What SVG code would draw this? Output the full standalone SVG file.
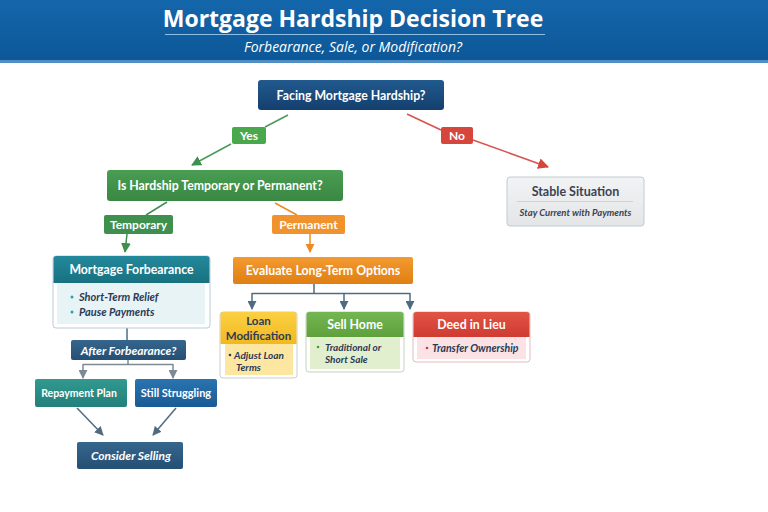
<svg xmlns="http://www.w3.org/2000/svg" width="768" height="512" viewBox="0 0 768 512">
<defs>
<linearGradient id="hdr" x1="0" y1="0" x2="0" y2="1"><stop offset="0" stop-color="#1466ab"/><stop offset="1" stop-color="#0c5797"/></linearGradient>
<linearGradient id="gBlue" x1="0" y1="0" x2="0" y2="1"><stop offset="0" stop-color="#215a8e"/><stop offset="1" stop-color="#143f6e"/></linearGradient>
<linearGradient id="gGreen" x1="0" y1="0" x2="0" y2="1"><stop offset="0" stop-color="#4a9d52"/><stop offset="1" stop-color="#3a8743"/></linearGradient>
<linearGradient id="gOrange" x1="0" y1="0" x2="0" y2="1"><stop offset="0" stop-color="#f39a30"/><stop offset="1" stop-color="#e07f12"/></linearGradient>
<linearGradient id="gTeal" x1="0" y1="0" x2="0" y2="1"><stop offset="0" stop-color="#23899c"/><stop offset="1" stop-color="#18717f"/></linearGradient>
<linearGradient id="gSlate" x1="0" y1="0" x2="0" y2="1"><stop offset="0" stop-color="#36668c"/><stop offset="1" stop-color="#254f74"/></linearGradient>
<linearGradient id="gRepay" x1="0" y1="0" x2="0" y2="1"><stop offset="0" stop-color="#32998f"/><stop offset="1" stop-color="#22807a"/></linearGradient>
<linearGradient id="gStill" x1="0" y1="0" x2="0" y2="1"><stop offset="0" stop-color="#2a74b0"/><stop offset="1" stop-color="#1a5a94"/></linearGradient>
<linearGradient id="gYellow" x1="0" y1="0" x2="0" y2="1"><stop offset="0" stop-color="#fbd044"/><stop offset="1" stop-color="#f1b91f"/></linearGradient>
<linearGradient id="gSell" x1="0" y1="0" x2="0" y2="1"><stop offset="0" stop-color="#74b653"/><stop offset="1" stop-color="#5ea13c"/></linearGradient>
<linearGradient id="gRed" x1="0" y1="0" x2="0" y2="1"><stop offset="0" stop-color="#e05445"/><stop offset="1" stop-color="#cf3b31"/></linearGradient>
<linearGradient id="gStable" x1="0" y1="0" x2="0" y2="1"><stop offset="0" stop-color="#f2f3f4"/><stop offset="1" stop-color="#e3e5e7"/></linearGradient>
<marker id="aGreen" viewBox="0 0 10 10" refX="9" refY="5" markerWidth="10" markerHeight="10" markerUnits="userSpaceOnUse" orient="auto"><path d="M0,0 L10,5 L0,10 z" fill="#3f8f4f"/></marker>
<marker id="aRed" viewBox="0 0 10 10" refX="9" refY="5" markerWidth="11" markerHeight="11" markerUnits="userSpaceOnUse" orient="auto"><path d="M0,0 L10,5 L0,10 z" fill="#d6463c"/></marker>
<marker id="aOrange" viewBox="0 0 10 10" refX="9" refY="5" markerWidth="9" markerHeight="9" markerUnits="userSpaceOnUse" orient="auto"><path d="M0,0 L10,5 L0,10 z" fill="#ef8a22"/></marker>
<marker id="aSlate" viewBox="0 0 10 10" refX="9" refY="5" markerWidth="9" markerHeight="9" markerUnits="userSpaceOnUse" orient="auto"><path d="M0,0 L10,5 L0,10 z" fill="#4f6b82"/></marker>
<marker id="aGray" viewBox="0 0 10 10" refX="9" refY="5" markerWidth="9" markerHeight="9" markerUnits="userSpaceOnUse" orient="auto"><path d="M0,0 L10,5 L0,10 z" fill="#7d8a94"/></marker>
</defs>
<style>
text{font-family:Lato,"Open Sans","DejaVu Sans",sans-serif}
.hd{font-family:"Open Sans","Noto Sans","DejaVu Sans",sans-serif}
.t{fill:#fff;font-weight:bold;font-size:12.3px;text-anchor:middle}
.lbl{fill:#fff;font-weight:bold;font-size:12px;text-anchor:middle}
.b{fill:#2b3a55;font-style:italic;font-weight:bold;font-size:10.5px}
.dk{fill:#2f3a55;font-weight:bold;font-size:12px;text-anchor:middle}
.ln{fill:none;stroke-width:1.5}
</style>
<rect width="768" height="512" fill="#ffffff"/>
<g id="header">
<rect x="0" y="0" width="768" height="62" fill="url(#hdr)"/>
<rect x="0" y="60" width="768" height="3" fill="#4f8fc6"/>
<text class="hd" x="353" y="27" text-anchor="middle" fill="#ffffff" font-size="23" font-weight="bold">Mortgage Hardship Decision Tree</text>
<line x1="165" y1="34.5" x2="545" y2="34.5" stroke="#8fbde4" stroke-width="1"/>
<text class="hd" x="353" y="52" text-anchor="middle" fill="#ffffff" font-size="14" font-style="italic">Forbearance, Sale, or Modification?</text>
</g>
<g id="connectors">
<line class="ln" x1="288" y1="115" x2="265" y2="127" stroke="#4a9a5a"/>
<line class="ln" x1="231" y1="144" x2="192" y2="165" stroke="#4a9a5a" marker-end="url(#aGreen)"/>
<line class="ln" x1="407" y1="114" x2="441" y2="130" stroke="#d9534f"/>
<line class="ln" x1="473" y1="140" x2="548" y2="167" stroke="#d9534f" marker-end="url(#aRed)"/>
<line class="ln" x1="167" y1="202" x2="146" y2="215" stroke="#3f8f4f"/>
<line class="ln" x1="127" y1="234" x2="125" y2="252" stroke="#3f8f4f" marker-end="url(#aGreen)"/>
<line class="ln" x1="275" y1="203" x2="297" y2="215" stroke="#ef8a22"/>
<line class="ln" x1="310" y1="234" x2="310" y2="252" stroke="#ef8a22" marker-end="url(#aOrange)"/>
<path class="ln" d="M314,284 V293.5 M252,293.5 H410" stroke="#4f6b82"/>
<line class="ln" x1="252" y1="293" x2="252" y2="309" stroke="#4f6b82" marker-end="url(#aSlate)"/>
<line class="ln" x1="344" y1="293" x2="344" y2="309" stroke="#4f6b82" marker-end="url(#aSlate)"/>
<line class="ln" x1="410" y1="293" x2="410" y2="309" stroke="#4f6b82" marker-end="url(#aSlate)"/>
<line class="ln" x1="127" y1="328" x2="127" y2="340" stroke="#4f6b82"/>
<path class="ln" d="M128,360 V364.5 M83,364.5 H173" stroke="#7d8a94"/>
<line class="ln" x1="83" y1="364" x2="83" y2="378" stroke="#7d8a94" marker-end="url(#aGray)"/>
<line class="ln" x1="173" y1="364" x2="173" y2="378" stroke="#7d8a94" marker-end="url(#aGray)"/>
<line class="ln" x1="77" y1="408" x2="103" y2="435" stroke="#4f6b82" marker-end="url(#aSlate)"/>
<line class="ln" x1="176" y1="408" x2="153" y2="435" stroke="#4f6b82" marker-end="url(#aSlate)"/>
</g>
<g id="facing">
<rect x="258" y="80" width="186" height="30" rx="3" fill="url(#gBlue)"/>
<text class="t" x="351" y="99.5">Facing Mortgage Hardship?</text>
</g>
<g id="yes">
<rect x="232" y="127" width="34" height="17" rx="2" fill="#4aa84c"/>
<text class="lbl" x="249" y="139.5">Yes</text>
</g>
<g id="no">
<rect x="441" y="127" width="32" height="17" rx="2" fill="#d6463c"/>
<text class="lbl" x="457" y="139.5">No</text>
</g>
<g id="stable">
<rect x="507" y="177" width="137" height="49" rx="3" fill="url(#gStable)" stroke="#c4cad0"/>
<text class="dk" x="575.5" y="196" style="fill:#3b4352;font-size:12.5px">Stable Situation</text>
<line x1="517" y1="201.5" x2="633" y2="201.5" stroke="#cfd3d7"/>
<text x="575.5" y="216" text-anchor="middle" font-size="9.5" font-style="italic" font-weight="bold" fill="#3b4352">Stay Current with Payments</text>
</g>
<g id="temporaryOrPermanent">
<rect x="107" y="170" width="236" height="31" rx="3" fill="url(#gGreen)"/>
<text class="t" x="220" y="190">Is Hardship Temporary or Permanent?</text>
</g>
<g id="temporary">
<rect x="104" y="215" width="69" height="19" rx="2" fill="#3f8f4f"/>
<text class="lbl" x="138.5" y="228.5">Temporary</text>
</g>
<g id="permanent">
<rect x="272" y="215" width="73" height="19" rx="2" fill="#f0922e"/>
<text class="lbl" x="308.5" y="228.5">Permanent</text>
</g>
<g id="forbearance">
<rect x="53" y="256" width="157" height="72" rx="3" fill="#ffffff" stroke="#b9ccd6"/>
<rect x="57" y="283" width="148" height="41" fill="#e8f3f6"/>
<path d="M53.5,283 V259 a3,3 0 0 1 3,-3 H206.5 a3,3 0 0 1 3,3 V283 z" fill="url(#gTeal)"/>
<text class="t" x="131.5" y="274">Mortgage Forbearance</text>
<circle cx="72" cy="297" r="1.5" fill="#2a9fb5"/>
<text class="b" x="79" y="301" style="font-size:11px">Short-Term Relief</text>
<circle cx="72" cy="312" r="1.5" fill="#2a9fb5"/>
<text class="b" x="79" y="316" style="font-size:11px">Pause Payments</text>
</g>
<g id="afterForbearance">
<rect x="71" y="340" width="115" height="20" rx="2" fill="url(#gSlate)"/>
<text x="128.5" y="354.5" text-anchor="middle" fill="#fff" font-size="12" font-weight="bold" font-style="italic">After Forbearance?</text>
</g>
<g id="repayment">
<rect x="35" y="379" width="92" height="28" rx="2" fill="url(#gRepay)"/>
<text x="79" y="396.5" text-anchor="middle" fill="#fff" font-size="10.5" font-weight="bold">Repayment Plan</text>
</g>
<g id="struggling">
<rect x="135" y="379" width="82" height="28" rx="2" fill="url(#gStill)"/>
<text x="176" y="397" text-anchor="middle" fill="#fff" font-size="11" font-weight="bold">Still Struggling</text>
</g>
<g id="considerSelling">
<rect x="77" y="442" width="106" height="27" rx="2" fill="url(#gSlate)"/>
<text x="131" y="460" text-anchor="middle" fill="#fff" font-size="12" font-weight="bold" font-style="italic">Consider Selling</text>
</g>
<g id="evaluate">
<rect x="233" y="257" width="180" height="27" rx="2" fill="url(#gOrange)"/>
<text class="t" x="323" y="275">Evaluate Long-Term Options</text>
</g>
<g id="loanMod">
<rect x="220" y="312" width="77" height="66" rx="3" fill="#ffffff" stroke="#c9ccd0"/>
<rect x="225" y="344" width="68" height="31" fill="#fde7a0"/>
<path d="M220.5,344 V315 a3,3 0 0 1 3,-3 H293.5 a3,3 0 0 1 3,3 V344 z" fill="url(#gYellow)"/>
<text class="dk" x="258.5" y="325" style="font-size:11.5px">Loan</text>
<text class="dk" x="258.5" y="340" style="font-size:11.5px">Modification</text>
<circle cx="230" cy="355" r="1.3" fill="#2b3a55"/>
<text class="b" x="234" y="358.5" style="font-size:10px">Adjust Loan</text>
<text class="b" x="236" y="370.5" style="font-size:10px">Terms</text>
</g>
<g id="sellHome">
<rect x="306" y="312" width="98" height="60" rx="3" fill="#ffffff" stroke="#c4d3bc"/>
<rect x="310" y="337" width="90" height="32" fill="#e2efcf"/>
<path d="M306.5,337 V315 a3,3 0 0 1 3,-3 H400.5 a3,3 0 0 1 3,3 V337 z" fill="url(#gSell)"/>
<text class="t" x="355" y="329">Sell Home</text>
<circle cx="318" cy="347" r="1.3" fill="#4f9a35"/>
<text class="b" x="325" y="350.5" style="font-size:10px">Traditional or</text>
<text class="b" x="325" y="362.5" style="font-size:10px">Short Sale</text>
</g>
<g id="deedInLieu">
<rect x="413" y="312" width="117" height="50" rx="3" fill="#ffffff" stroke="#e3b9bd"/>
<rect x="417" y="337" width="109" height="22" fill="#fbe2e5"/>
<path d="M413.5,337 V315 a3,3 0 0 1 3,-3 H526.5 a3,3 0 0 1 3,3 V337 z" fill="url(#gRed)"/>
<text class="t" x="471.5" y="329">Deed in Lieu</text>
<circle cx="427" cy="348" r="1.3" fill="#c04050"/>
<text class="b" x="432" y="352">Transfer Ownership</text>
</g>
</svg>
